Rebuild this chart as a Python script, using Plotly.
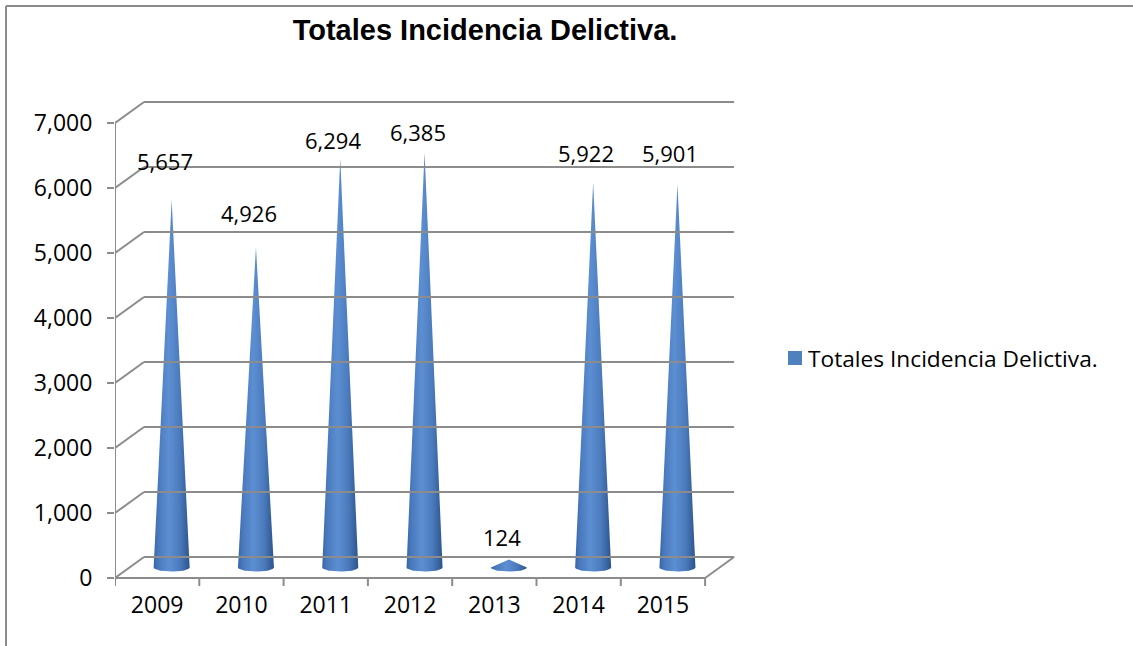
import numpy as np
import plotly.graph_objects as go

# ---- data ----
years = ["2009", "2010", "2011", "2012", "2013", "2014", "2015"]
totals = [5657, 4926, 6294, 6385, 124, 5922, 5901]
y_ticks = [0, 1000, 2000, 3000, 4000, 5000, 6000, 7000]
series_name = "Totales Incidencia Delictiva."

# ---- page geometry (pixels) ----
W, H = 1133, 646
PL, PR, PT, PB = 115, 740, 95, 586          # plot area edges
X0, X1 = -0.5, -0.5 + (PR - PL) / 84.3      # category range
Y0, Y1 = -123, 7431                          # value range

# depth of the pseudo-3D box in data units
DX, DY = 0.344, 323
# cone geometry
HALF_W = 0.2135      # half width of cone base (categories)
RY = 62              # vertical semi-axis of base ellipse (value units)

GRID = "#8c8c8c"
TXT = "Open Sans"

# per-label lift above the cone tip (px)
label_lift = [39, 34, 18, 20, 22, 30, 31]


def px_x(p):
    return (p - PL) / (PR - PL)


def px_y(p):
    return (PB - p) / (PB - PT)


fig = go.Figure()

# ---- cones ----
t = np.linspace(0, np.pi, 40)
for i, v in enumerate(totals):
    cx = i + DX / 2
    b0 = DY / 2
    xs = [cx - HALF_W, cx, cx + HALF_W] + list(cx + HALF_W * np.cos(t))
    ys = [b0, b0 + v, b0] + list(b0 - RY * np.sin(t))
    xs.append(xs[0])
    ys.append(ys[0])
    fig.add_trace(go.Scatter(
        x=xs, y=ys, mode="lines", fill="toself",
        line=dict(width=0, color="rgba(0,0,0,0)"),
        fillgradient=dict(
            type="horizontal",
            colorscale=[[0, "#3865a6"], [0.12, "#4878bb"], [0.42, "#5c8fd2"],
                        [0.72, "#4b7bbd"], [1, "#2d548c"]],
        ),
        hoverinfo="skip", showlegend=False,
    ))
    fig.add_annotation(
        x=cx, y=b0 + v, text=f"{v:,}", showarrow=False,
        xshift=-7, yshift=label_lift[i], yanchor="middle",
        font=dict(family=TXT, size=22, color="#000"),
    )

shapes = []
line = dict(color=GRID, width=2)

# back wall gridlines + left wall diagonals
for v in y_ticks:
    shapes.append(dict(type="line", xref="x", yref="y",
                       x0=X0 + DX, x1=6.5 + DX, y0=v + DY, y1=v + DY, line=line))
    shapes.append(dict(type="line", xref="x", yref="y",
                       x0=X0, x1=X0 + DX, y0=v, y1=v + DY, line=line))

# front vertical axis
shapes.append(dict(type="line", xref="x", yref="y",
                   x0=X0, x1=X0, y0=0, y1=y_ticks[-1], line=line))
# floor front edge and right diagonal
shapes.append(dict(type="line", xref="x", yref="y",
                   x0=X0, x1=6.5, y0=0, y1=0, line=line))
shapes.append(dict(type="line", xref="x", yref="y",
                   x0=6.5, x1=6.5 + DX, y0=0, y1=DY, line=line))
# category boundary ticks
for k in range(len(years) + 1):
    shapes.append(dict(type="line", xref="x", yref="y",
                       x0=k - 0.5, x1=k - 0.5, y0=0, y1=-123, line=line))

# outer chart frame
shapes.append(dict(type="line", xref="paper", yref="paper",
                   x0=px_x(6), x1=px_x(6), y0=px_y(6), y1=px_y(660),
                   line=dict(color="#8a8a8a", width=2)))
shapes.append(dict(type="line", xref="paper", yref="paper",
                   x0=px_x(6), x1=px_x(1140), y0=px_y(6), y1=px_y(6),
                   line=dict(color="#8a8a8a", width=2)))

# legend swatch
shapes.append(dict(type="rect", xref="paper", yref="paper",
                   x0=px_x(788), x1=px_x(802), y0=px_y(351), y1=px_y(365),
                   line=dict(width=0), fillcolor="#4f81bd"))
fig.add_annotation(
    xref="paper", yref="paper", x=px_x(806), y=px_y(358),
    xanchor="left", yanchor="middle", text=series_name, showarrow=False,
    font=dict(family=TXT, size=22.7, color="#000"),
)

fig.update_layout(
    width=W, height=H,
    margin=dict(l=PL, r=W - PR, t=PT, b=H - PB),
    paper_bgcolor="white", plot_bgcolor="white",
    shapes=shapes,
    showlegend=False,
    title=dict(
        text="<b>Totales Incidencia Delictiva.</b>",
        x=485 / W, xanchor="center", xref="container",
        y=1 - 30 / H, yanchor="middle", yref="container",
        font=dict(family="Liberation Sans", size=29, color="#000"),
    ),
    xaxis=dict(
        range=[X0, X1], showgrid=False, zeroline=False, showline=False,
        tickvals=list(range(len(years))), ticktext=years, ticks="",
        ticklabelstandoff=3,
        tickfont=dict(family=TXT, size=23, color="#000"),
    ),
    yaxis=dict(
        range=[Y0, Y1], showgrid=False, zeroline=False, showline=False,
        tickvals=y_ticks, tickformat=",", ticks="outside", ticklen=7,
        tickcolor=GRID, tickwidth=2, ticklabelstandoff=10,
        tickfont=dict(family=TXT, size=23, color="#000"),
    ),
)

fig.write_html("out.html")
